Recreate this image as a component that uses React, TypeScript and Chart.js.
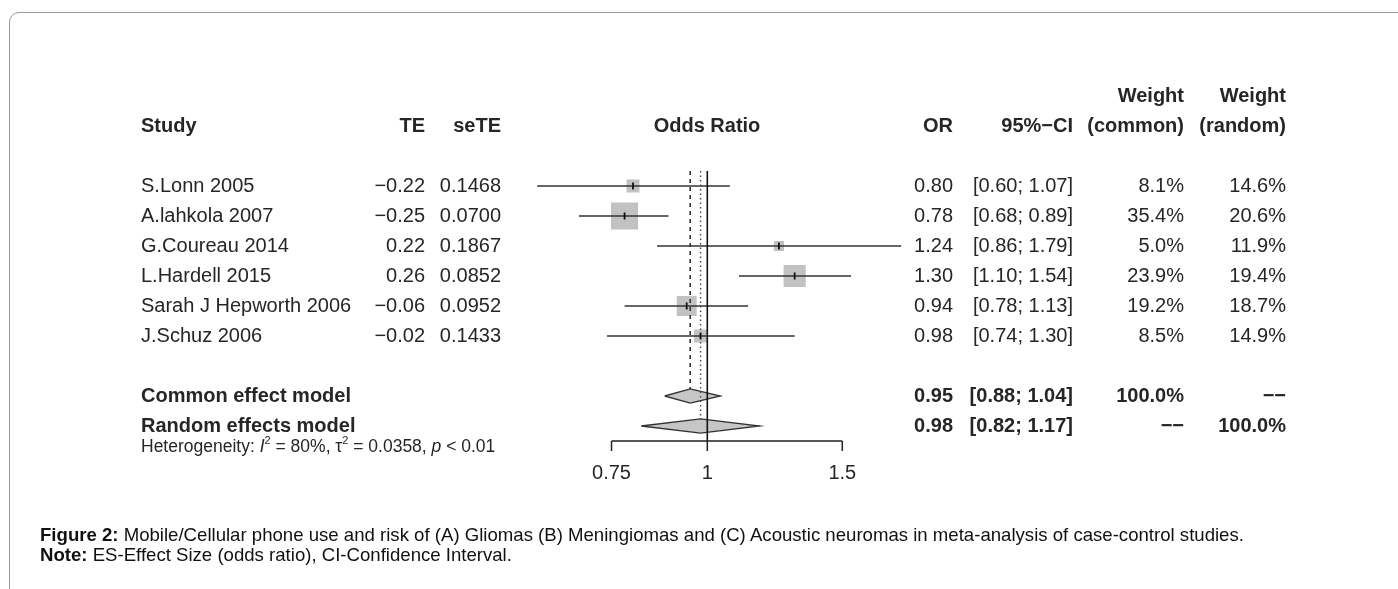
import React, { useEffect, useRef } from "react";
import { Chart, registerables } from "chart.js";

Chart.register(...registerables);

// ---------- data ----------
const studies = [
  "S.Lonn 2005",
  "A.lahkola 2007",
  "G.Coureau 2014",
  "L.Hardell 2015",
  "Sarah J Hepworth 2006",
  "J.Schuz 2006",
];
const te = [-0.22, -0.25, 0.22, 0.26, -0.06, -0.02];
const seTE = [0.1468, 0.07, 0.1867, 0.0852, 0.0952, 0.1433];
const oddsRatio = [0.8, 0.78, 1.24, 1.3, 0.94, 0.98];
const ciLower = [0.6, 0.68, 0.86, 1.1, 0.78, 0.74];
const ciUpper = [1.07, 0.89, 1.79, 1.54, 1.13, 1.3];
const weightCommon = [8.1, 35.4, 5.0, 23.9, 19.2, 8.5];
const weightRandom = [14.6, 20.6, 11.9, 19.4, 18.7, 14.9];

const modelLabels = ["Common effect model", "Random effects model"];
const modelOR = [0.95, 0.98];
const modelLower = [0.88, 0.82];
const modelUpper = [1.04, 1.17];
const modelWeightCommon = ["100.0%", "\u2212\u2212"];
const modelWeightRandom = ["\u2212\u2212", "100.0%"];

const xTicks = [0.75, 1, 1.5];
const hetI2 = "80%";
const hetTau2 = "0.0358";
const hetP = "< 0.01";

// ---------- layout (rows on the y scale) ----------
const ROW_WEIGHT = 0;
const ROW_HEADER = 1;
const FIRST_STUDY_ROW = 3;
const studyRows = studies.map((_, i) => FIRST_STUDY_ROW + i);
const modelRows = [FIRST_STUDY_ROW + studies.length + 1, FIRST_STUDY_ROW + studies.length + 2];
const AXIS_ROW = modelRows[1] + 0.5;
const LINE_TOP_ROW = FIRST_STUDY_ROW - 0.5;
const DIAMOND_HALF = 0.235;
const BOX_SCALE = 4.54; // px of box side per sqrt(weight %)

const FONT = '"Liberation Sans", Arial, Helvetica, sans-serif';
const TEXT_COLOR = "#262626";
const FS = 20;

const COL = {
  study: 141,
  te: 425,
  se: 501,
  forest: 707,
  or: 953,
  ci: 1073,
  wc: 1184,
  wr: 1286,
};

const fmtSigned = (v: number, d: number) =>
  (v < 0 ? "\u2212" : "") + Math.abs(v).toFixed(d);
const fmtCI = (lo: number, hi: number) => `[${lo.toFixed(2)}; ${hi.toFixed(2)}]`;

const textPlugin = {
  id: "forestText",
  afterDraw(chart: any) {
    const { ctx } = chart;
    const x = chart.scales.x;
    const y = chart.scales.y;
    const font = (size: number, bold = false, italic = false) =>
      `${italic ? "italic " : ""}${bold ? "bold " : ""}${size}px ${FONT}`;
    const put = (
      text: string,
      px: number,
      row: number,
      align: CanvasTextAlign,
      bold = false,
      size = FS
    ) => {
      ctx.font = font(size, bold);
      ctx.textAlign = align;
      ctx.textBaseline = "middle";
      ctx.fillStyle = TEXT_COLOR;
      ctx.fillText(text, px, y.getPixelForValue(row));
    };
    ctx.save();
    // headers
    put("Weight", COL.wc, ROW_WEIGHT, "right", true);
    put("Weight", COL.wr, ROW_WEIGHT, "right", true);
    put("Study", COL.study, ROW_HEADER, "left", true);
    put("TE", COL.te, ROW_HEADER, "right", true);
    put("seTE", COL.se, ROW_HEADER, "right", true);
    put("Odds Ratio", COL.forest, ROW_HEADER, "center", true);
    put("OR", COL.or, ROW_HEADER, "right", true);
    put("95%\u2212CI", COL.ci, ROW_HEADER, "right", true);
    put("(common)", COL.wc, ROW_HEADER, "right", true);
    put("(random)", COL.wr, ROW_HEADER, "right", true);
    // studies
    studies.forEach((s, i) => {
      const r = studyRows[i];
      put(s, COL.study, r, "left");
      put(fmtSigned(te[i], 2), COL.te, r, "right");
      put(seTE[i].toFixed(4), COL.se, r, "right");
      put(oddsRatio[i].toFixed(2), COL.or, r, "right");
      put(fmtCI(ciLower[i], ciUpper[i]), COL.ci, r, "right");
      put(weightCommon[i].toFixed(1) + "%", COL.wc, r, "right");
      put(weightRandom[i].toFixed(1) + "%", COL.wr, r, "right");
    });
    // models
    modelLabels.forEach((m, i) => {
      const r = modelRows[i];
      put(m, COL.study, r, "left", true);
      put(modelOR[i].toFixed(2), COL.or, r, "right", true);
      put(fmtCI(modelLower[i], modelUpper[i]), COL.ci, r, "right", true);
      put(modelWeightCommon[i], COL.wc, r, "right", true);
      put(modelWeightRandom[i], COL.wr, r, "right", true);
    });

    // axis
    const axisY = y.getPixelForValue(AXIS_ROW);
    const x0 = x.getPixelForValue(xTicks[0]);
    const x1 = x.getPixelForValue(xTicks[xTicks.length - 1]);
    ctx.strokeStyle = "#222";
    ctx.lineWidth = 1.5;
    ctx.beginPath();
    ctx.moveTo(x0, axisY);
    ctx.lineTo(x1, axisY);
    xTicks.forEach((t) => {
      const px = x.getPixelForValue(t);
      ctx.moveTo(px, axisY);
      ctx.lineTo(px, axisY + 10);
    });
    ctx.stroke();
    ctx.font = font(FS);
    ctx.textAlign = "center";
    ctx.textBaseline = "middle";
    ctx.fillStyle = TEXT_COLOR;
    xTicks.forEach((t) => {
      ctx.fillText(String(t), x.getPixelForValue(t), axisY + 32);
    });

    // heterogeneity
    let hx = COL.study;
    const hy = axisY + 6;
    const size = 17.5;
    const seg = (t: string, italic = false, sup = false) => {
      ctx.font = font(sup ? 11 : size, false, italic);
      ctx.textAlign = "left";
      ctx.textBaseline = "middle";
      ctx.fillText(t, hx, sup ? hy - 6 : hy);
      hx += ctx.measureText(t).width;
    };
    seg("Heterogeneity: ");
    seg("I", true);
    seg("2", false, true);
    seg(" = " + hetI2 + ", ");
    seg("\u03C4");
    seg("2", false, true);
    seg(" = " + hetTau2 + ", ");
    seg("p", true);
    seg(" " + hetP);
    ctx.restore();
  },
};

export default function App() {
  const ref = useRef<HTMLCanvasElement>(null);
  useEffect(() => {
    const canvas = ref.current!;
    const lineDs = (data: any[], extra: any) => ({
      type: "line",
      data,
      pointRadius: 0,
      tension: 0,
      fill: false,
      ...extra,
    });
    const datasets: any[] = [];
    // reference lines
    datasets.push(
      lineDs(
        [
          { x: 1, y: LINE_TOP_ROW },
          { x: 1, y: AXIS_ROW },
        ],
        { borderColor: "#111", borderWidth: 1.6, order: 1 }
      )
    );
    datasets.push(
      lineDs(
        [
          { x: modelOR[0], y: LINE_TOP_ROW },
          { x: modelOR[0], y: modelRows[0] - DIAMOND_HALF },
        ],
        { borderColor: "#333", borderWidth: 1.6, borderDash: [4, 4], order: 1 }
      )
    );
    datasets.push(
      lineDs(
        [
          { x: modelOR[1], y: LINE_TOP_ROW },
          { x: modelOR[1], y: modelRows[1] - DIAMOND_HALF },
        ],
        { borderColor: "#444", borderWidth: 1.4, borderDash: [1.5, 3], order: 1 }
      )
    );
    // CI lines
    studies.forEach((_, i) => {
      datasets.push(
        lineDs(
          [
            { x: ciLower[i], y: studyRows[i] },
            { x: ciUpper[i], y: studyRows[i] },
          ],
          { borderColor: "#333", borderWidth: 1.6, order: 2 }
        )
      );
    });
    // boxes
    datasets.push({
      type: "scatter",
      data: studies.map((_, i) => ({ x: oddsRatio[i], y: studyRows[i] })),
      pointStyle: "rect",
      pointRadius: weightCommon.map((w) => (BOX_SCALE * Math.sqrt(w)) / Math.SQRT2),
      pointHoverRadius: weightCommon.map((w) => (BOX_SCALE * Math.sqrt(w)) / Math.SQRT2),
      backgroundColor: "#c2c2c2",
      borderWidth: 0,
      order: 5,
    });
    // estimate marks
    datasets.push({
      type: "scatter",
      data: studies.map((_, i) => ({ x: oddsRatio[i], y: studyRows[i] })),
      pointStyle: "line",
      rotation: 90,
      pointRadius: 3.5,
      borderColor: "#111",
      borderWidth: 1.8,
      order: 0,
    });
    // diamonds
    modelOR.forEach((m, i) => {
      const r = modelRows[i];
      datasets.push(
        lineDs(
          [
            { x: modelLower[i], y: r },
            { x: m, y: r - DIAMOND_HALF },
            { x: modelUpper[i], y: r },
            { x: m, y: r + DIAMOND_HALF },
            { x: modelLower[i], y: r },
          ],
          {
            borderColor: "#333",
            borderWidth: 1.3,
            backgroundColor: "#c6c6c6",
            fill: "shape",
            order: 3,
          }
        )
      );
    });

    const chart = new Chart(canvas, {
      type: "scatter",
      data: { datasets },
      plugins: [textPlugin],
      options: {
        animation: false,
        responsive: false,
        devicePixelRatio: 1,
        events: [],
        layout: { padding: { left: 476.5, right: 459.9, top: 96, bottom: 103 } },
        scales: {
          x: { type: "logarithmic", min: 0.5, max: 2, display: false },
          y: { type: "linear", min: 0, max: 13, reverse: true, display: false },
        },
        plugins: { legend: { display: false }, tooltip: { enabled: false } },
      } as any,
    } as any);
    return () => chart.destroy();
  }, []);

  return (
    <div
      style={{
        position: "fixed",
        left: 0,
        top: 0,
        width: 1398,
        height: 589,
        overflow: "hidden",
        background: "#fff",
      }}
    >
      <div
        style={{
          position: "absolute",
          left: 9,
          top: 12,
          width: 1600,
          height: 800,
          border: "1px solid #9a9a9a",
          borderTopLeftRadius: 10,
        }}
      />
      <canvas
        ref={ref}
        width={1398}
        height={589}
        style={{ position: "absolute", left: 0, top: 0, width: 1398, height: 589 }}
      />
      <div
        style={{
          position: "absolute",
          left: 40,
          top: 525,
          fontFamily: FONT,
          fontSize: 18.6,
          lineHeight: "20px",
          color: "#111",
          whiteSpace: "nowrap",
        }}
      >
        <div>
          <b>Figure 2:</b> Mobile/Cellular phone use and risk of (A) Gliomas (B) Meningiomas and (C)
          Acoustic neuromas in meta-analysis of case-control studies.
        </div>
        <div>
          <b>Note:</b> ES-Effect Size (odds ratio), CI-Confidence Interval.
        </div>
      </div>
    </div>
  );
}
